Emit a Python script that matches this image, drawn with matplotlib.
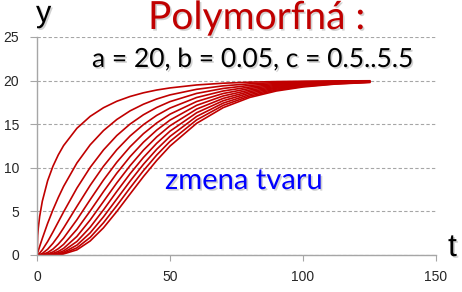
import matplotlib
matplotlib.use("Agg")
import matplotlib.pyplot as plt
import matplotlib.patheffects as pe

# time points (x)
t = [0, 0.25, 0.5, 1, 2, 4, 6, 8, 10, 15, 20, 25, 30, 35, 40, 45, 50, 60, 70, 80, 90, 100, 112, 125]

# curves for c = 0.5, 1.0, ..., 5.5 (values read/)
c05 = [0, 2.23, 3.14, 4.42, 6.17, 8.52, 10.18, 11.48, 12.55, 14.53, 15.90, 16.89, 17.63, 18.18, 18.60, 18.92, 19.16, 19.50, 19.70, 19.82, 19.89, 19.93, 19.96, 19.98]
c10 = [0, 0.25, 0.49, 0.98, 1.90, 3.63, 5.18, 6.59, 7.87, 10.55, 12.64, 14.27, 15.54, 16.53, 17.29, 17.89, 18.36, 19.00, 19.40, 19.63, 19.78, 19.87, 19.93, 19.96]
c15 = [0, 0.03, 0.08, 0.22, 0.59, 1.54, 2.64, 3.79, 4.94, 7.67, 10.05, 12.05, 13.70, 15.02, 16.08, 16.92, 17.59, 18.53, 19.10, 19.45, 19.67, 19.80, 19.89, 19.94]
c20 = [0, 0, 0.01, 0.05, 0.18, 0.66, 1.34, 2.17, 3.10, 5.57, 7.99, 10.18, 12.07, 13.65, 14.95, 16.01, 16.85, 18.06, 18.81, 19.27, 19.56, 19.73, 19.85, 19.92]
c25 = [0, 0, 0, 0.01, 0.06, 0.28, 0.68, 1.25, 1.94, 4.04, 6.35, 8.60, 10.64, 12.41, 13.91, 15.14, 16.15, 17.60, 18.52, 19.10, 19.45, 19.66, 19.82, 19.90]
c30 = [0, 0, 0, 0, 0.02, 0.12, 0.35, 0.72, 1.22, 2.94, 5.05, 7.27, 9.38, 11.28, 12.93, 14.32, 15.47, 17.16, 18.24, 18.92, 19.34, 19.60, 19.78, 19.89]
c35 = [0, 0, 0, 0, 0.01, 0.05, 0.18, 0.41, 0.76, 2.13, 4.02, 6.14, 8.27, 10.25, 12.02, 13.54, 14.82, 16.73, 17.96, 18.75, 19.23, 19.53, 19.74, 19.87]
c40 = [0, 0, 0, 0, 0, 0.02, 0.09, 0.24, 0.48, 1.55, 3.19, 5.18, 7.29, 9.32, 11.18, 12.81, 14.20, 16.31, 17.69, 18.58, 19.13, 19.47, 19.71, 19.85]
c45 = [0, 0, 0, 0, 0, 0.01, 0.05, 0.14, 0.30, 1.13, 2.54, 4.38, 6.42, 8.47, 10.40, 12.12, 13.60, 15.89, 17.42, 18.40, 19.02, 19.40, 19.67, 19.83]
c50 = [0, 0, 0, 0, 0, 0, 0.02, 0.08, 0.19, 0.82, 2.02, 3.70, 5.66, 7.70, 9.67, 11.46, 13.03, 15.49, 17.16, 18.23, 18.91, 19.34, 19.63, 19.81]
c55 = [0, 0, 0, 0, 0, 0, 0.01, 0.04, 0.12, 0.59, 1.61, 3.12, 4.99, 7.00, 8.99, 10.84, 12.49, 15.10, 16.90, 18.07, 18.81, 19.27, 19.60, 19.79]
curves = [c05, c10, c15, c20, c25, c30, c35, c40, c45, c50, c55]

xticks = [0, 50, 100, 150]
yticks = [0, 5, 10, 15, 20, 25]

W, H = 462, 292
fig = plt.figure(figsize=(W / 100, H / 100), dpi=100)
ax = fig.add_axes([37 / W, 1 - 255 / H, (436 - 37) / W, (255 - 37) / H])

for yv in curves:
    ax.plot(t, yv, color="#C00000", lw=1.2, solid_joinstyle="round")

ax.set_xlim(0, 150)
ax.set_ylim(0, 25)
ax.set_xticks(xticks)
ax.set_yticks(yticks)
for s in ["top", "right"]:
    ax.spines[s].set_visible(False)
for s in ["left", "bottom"]:
    ax.spines[s].set_color("#A6A6A6")
    ax.spines[s].set_linewidth(1.0)
ax.yaxis.grid(True, color="#A6A6A6", linestyle=(0, (3, 2)), linewidth=0.8)
ax.set_axisbelow(True)
ax.tick_params(axis="both", colors="#A6A6A6", labelcolor="#262626",
               labelsize=10, direction="out")
ax.tick_params(axis="y", length=5, pad=8)
ax.tick_params(axis="x", length=4.5, pad=6)
for lab in ax.get_xticklabels() + ax.get_yticklabels():
    lab.set_fontfamily("Liberation Sans")

shadow = [pe.withSimplePatchShadow(offset=(1.2, -1.2), shadow_rgbFace="#909090", alpha=0.4)]

def ftxt(x, y, s, **kw):
    return fig.text(x / W, 1 - y / H, s, va="baseline", path_effects=shadow, **kw)

ftxt(36, 22, "y", fontsize=22, family="Liberation Sans", color="black")
ftxt(148, 29, "Polymorfná :", fontsize=28, family="Lato", color="#C00000")
ftxt(92, 67, "a = 20, b = 0.05, c = 0.5..5.5", fontsize=19, family="Lato", color="black")
ftxt(165, 189, "zmena tvaru", fontsize=21, family="Lato", color="#0000FF")
ftxt(448, 256, "t", fontsize=23, family="Liberation Sans", color="black")

fig.savefig("out.png", dpi=100)
